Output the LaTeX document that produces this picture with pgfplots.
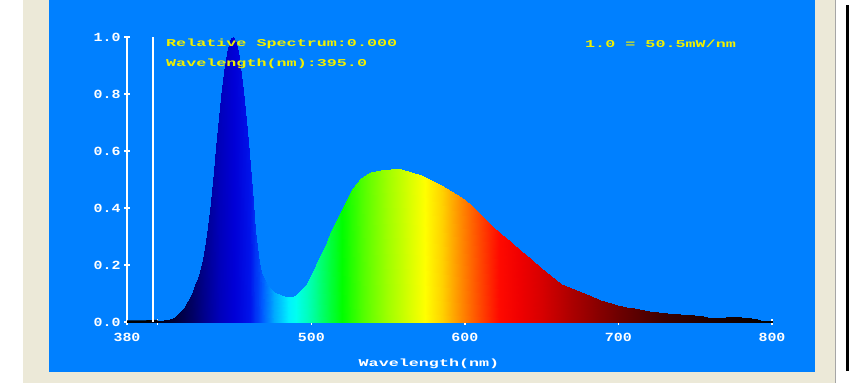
\documentclass[border=0pt]{standalone}
\usepackage{pgfplots}
\pgfplotsset{compat=1.18}
\usepackage{fontspec}
\newfontfamily\pixa{Liberation Mono}[FakeStretch=1.6]
\newfontfamily\pixb{Liberation Mono}[FakeStretch=1.2]
\definecolor{panel}{RGB}{0,128,255}
\definecolor{beige}{RGB}{236,233,216}
\definecolor{ylw}{RGB}{240,240,0}
\begin{document}
\begin{tikzpicture}[x=1bp,y=1bp]
\useasboundingbox (0,0) rectangle (850,383);
\fill[white] (0,0) rectangle (850,383);
\fill[beige] (23,0) rectangle (835,383);
\fill[panel] (49,11) rectangle (815,383);
\draw[gray!70, line width=1bp] (835.5,0) -- (835.5,383);
\draw[black, line width=2.5bp] (847.5,12) -- (847.5,378);
\begin{axis}[
  at={(127bp,61bp)}, anchor=south west,
  scale only axis, width=645bp, height=285bp,
  xmin=380, xmax=800, ymin=0, ymax=1,
  axis x line*=bottom, axis y line*=left,
  x axis line style={draw=none},
  y axis line style={white, line width=2bp},
  tick style={white, line width=1.5bp},
  major tick length=6bp, tick align=center,
  xtick={380,400,500,600,700,800},
  xticklabels={380,,500,600,700,800},
  ytick={0,0.2,0.4,0.6,0.8,1},
  yticklabels={0.0,0.2,0.4,0.6,0.8,1.0},
  ticklabel style={text=white, font=\pixb\bfseries\fontsize{12.5}{13}\selectfont},
  xticklabel style={yshift=-5bp},
  colormap={spec}{rgb255(0pt)=(0,0,0); rgb255(20pt)=(0,0,20); rgb255(30pt)=(0,0,50);
    rgb255(40pt)=(0,0,90); rgb255(50pt)=(0,0,140); rgb255(60pt)=(0,0,185);
    rgb255(70pt)=(0,0,215); rgb255(80pt)=(0,20,235); rgb255(88pt)=(0,90,255);
    rgb255(96pt)=(0,170,255); rgb255(105pt)=(0,240,255); rgb255(110pt)=(0,255,240);
    rgb255(120pt)=(0,255,170); rgb255(130pt)=(0,255,80); rgb255(140pt)=(0,255,0);
    rgb255(155pt)=(90,255,0); rgb255(170pt)=(160,255,0); rgb255(185pt)=(220,255,0);
    rgb255(194pt)=(255,255,0); rgb255(205pt)=(255,210,0); rgb255(217pt)=(255,140,0);
    rgb255(230pt)=(255,70,0); rgb255(242pt)=(255,10,0); rgb255(255pt)=(240,0,0);
    rgb255(270pt)=(215,0,0); rgb255(290pt)=(170,0,0); rgb255(320pt)=(110,0,0);
    rgb255(350pt)=(60,0,0); rgb255(380pt)=(30,0,0); rgb255(410pt)=(10,0,0);
    rgb255(420pt)=(0,0,0)},
  point meta min=380, point meta max=800,
]
\addplot[surf, shader=interp, mesh/rows=2, point meta=x] coordinates {
(380,0)(390,0)(395,0)(400,0)(404,0)(408,0)(411,0)(414,0)(417,0)(420,0)
(422,0)(424,0)(426,0)(428,0)(430,0)(432,0)(434,0)(436,0)(438,0)(440,0)
(442,0)(444,0)(446,0)(448,0)(449.2,0)(450.5,0)(452,0)(454,0)(456,0)(458,0)
(460,0)(462,0)(463.5,0)(465,0)(466.5,0)(468,0)(470,0)(473,0)(476,0)(480,0)
(484,0)(487,0)(490,0)(493.5,0)(497,0)(500,0)(503,0)(506.5,0)(510,0)(513,0)
(516,0)(519.5,0)(523,0)(526,0)(529,0)(532.5,0)(536,0)(539,0)(545.5,0)(552,0)
(558.4,0)(565,0)(571.4,0)(578,0)(584.4,0)(591,0)(597.4,0)(604,0)(610.4,0)(617,0)
(623.4,0)(630,0)(636.4,0)(643,0)(649.4,0)(656,0)(662.3,0)(669,0)(675.3,0)(682,0)
(688.3,0)(695,0)(699,0)(705,0)(710,0)(720,0)(731.6,0)(740,0)(749,0)(755,0)
(760,0)(765,0)(770,0)(775,0)(780,0)(786,0)(790,0)(794,0)(800,0)

(380,0.003)(390,0.003)(395,0.004)(400,0.005)(404,0.007)(408,0.012)(411,0.018)(414,0.03)(417,0.05)(420,0.075)
(422,0.10)(424,0.13)(426,0.155)(428,0.19)(430,0.24)(432,0.31)(434,0.39)(436,0.49)(438,0.61)(440,0.72)
(442,0.82)(444,0.90)(446,0.96)(448,0.995)(449.2,1.00)(450.5,0.99)(452,0.95)(454,0.87)(456,0.78)(458,0.67)
(460,0.55)(462,0.42)(463.5,0.32)(465,0.235)(466.5,0.19)(468,0.165)(470,0.145)(473,0.12)(476,0.105)(480,0.095)
(484,0.089)(487,0.088)(490,0.095)(493.5,0.112)(497,0.135)(500,0.165)(503,0.20)(506.5,0.24)(510,0.28)(513,0.32)
(516,0.355)(519.5,0.39)(523,0.428)(526,0.458)(529,0.484)(532.5,0.505)(536,0.518)(539,0.525)(545.5,0.533)(552,0.536)
(558.4,0.536)(565,0.528)(571.4,0.516)(578,0.50)(584.4,0.48)(591,0.46)(597.4,0.44)(604,0.41)(610.4,0.375)(617,0.34)
(623.4,0.31)(630,0.28)(636.4,0.25)(643,0.22)(649.4,0.19)(656,0.16)(662.3,0.135)(669,0.12)(675.3,0.106)(682,0.09)
(688.3,0.077)(695,0.065)(699,0.06)(705,0.053)(710,0.048)(720,0.038)(731.6,0.03)(740,0.027)(749,0.025)(755,0.02)
(760,0.013)(765,0.014)(770,0.019)(775,0.019)(780,0.018)(786,0.014)(790,0.01)(794,0.005)(800,0.003)
};
\addplot[black, line width=1.5bp] coordinates {(380,0.003)(390,0.003)(395,0.004)(400,0.005)};
\draw[white, line width=2bp] (axis cs:397,0) -- (axis cs:397,1.0);
\end{axis}
\node[anchor=west, text=ylw, font=\pixa\bfseries\fontsize{10.5}{11}\selectfont, inner sep=0pt] at (166,339) {Relative Spectrum:0.000};
\node[anchor=west, text=ylw, font=\pixa\bfseries\fontsize{10.5}{11}\selectfont, inner sep=0pt] at (166,319) {Wavelength(nm):395.0};
\node[anchor=west, text=ylw, font=\pixa\bfseries\fontsize{10.5}{11}\selectfont, inner sep=0pt] at (585,339) {1.0 = 50.5mW/nm};
\node[text=white, font=\pixa\bfseries\fontsize{10.5}{11}\selectfont, inner sep=0pt] at (429,19) {Wavelength(nm)};
\end{tikzpicture}
\end{document}
